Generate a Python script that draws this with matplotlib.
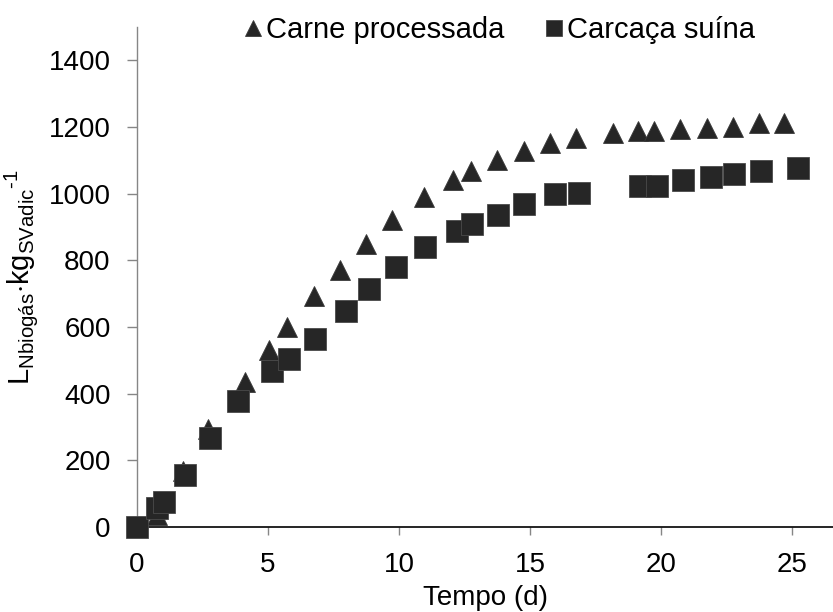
import matplotlib
matplotlib.use("Agg")
import matplotlib.pyplot as plt

plt.rcParams['font.family'] = ['Liberation Sans', 'DejaVu Sans']
plt.rcParams['mathtext.fontset'] = 'custom'
plt.rcParams['mathtext.rm'] = 'Liberation Sans'
plt.rcParams['mathtext.it'] = 'Liberation Sans'

# Carne processada (triangles)
carne_t = [0, 0.76, 1.76, 2.71, 4.12, 5.04, 5.74, 6.74, 7.73, 8.73, 9.74, 10.95,
           12.07, 12.73, 13.73, 14.75, 15.75, 16.74, 18.16, 19.13, 19.74, 20.74,
           21.74, 22.75, 23.74, 24.7]
carne_v = [0, 35, 169, 294, 436, 531, 599, 694, 771, 849, 920, 989,
           1042, 1069, 1102, 1129, 1151, 1166, 1183, 1187, 1189, 1193,
           1196, 1199, 1211, 1211]

# Carcaça suína (squares)
carcaca_t = [0, 0.76, 1.02, 1.83, 2.79, 3.87, 5.15, 5.8, 6.78, 7.96, 8.87, 9.87,
             10.98, 12.22, 12.79, 13.79, 14.77, 15.94, 16.88, 19.21, 19.85, 20.84,
             21.89, 22.8, 23.82, 25.23]
carcaca_v = [0, 57, 75, 157, 267, 377, 468, 505, 565, 649, 714, 779,
             839, 889, 909, 935, 969, 1000, 1002, 1023, 1022, 1040,
             1049, 1059, 1068, 1077]

fig = plt.figure(figsize=(8.33, 6.12), dpi=100)
ax = fig.add_axes([0.1645, 0.139, 0.8355, 0.817])

mk = '#262626'
ax.plot(carne_t, carne_v, linestyle='none', marker='^', markersize=15,
        color=mk, markeredgecolor='#3a3a3a', markeredgewidth=0.6,
        clip_on=False, label='Carne processada', zorder=3)
ax.plot(carcaca_t, carcaca_v, linestyle='none', marker='s', markersize=16,
        color=mk, markeredgecolor='#4a4a4a', markeredgewidth=0.6,
        clip_on=False, label='Carcaça suína', zorder=4)

ax.set_xlim(0, 26.56)
ax.set_ylim(0, 1500)
ax.set_xticks([0, 5, 10, 15, 20, 25])
ax.set_yticks([0, 200, 400, 600, 800, 1000, 1200, 1400])

for s in ['top', 'right']:
    ax.spines[s].set_visible(False)
ax.spines['left'].set_color('#868686')
ax.spines['left'].set_linewidth(1.0)
ax.spines['bottom'].set_color('black')
ax.spines['bottom'].set_linewidth(1.2)

ax.tick_params(axis='y', direction='out', length=7, width=1, color='#868686',
               labelsize=20, pad=12)
ax.tick_params(axis='x', direction='out', length=6, width=1, color='#868686',
               labelsize=20, pad=12)

ax.set_xlabel('Tempo (d)', fontsize=20, labelpad=5)
ax.set_ylabel(r'$\mathrm{L_{Nbiogás}{\cdot}kg_{SVadic}{}^{‐1}}$', fontsize=21, labelpad=6)

leg = fig.legend(loc='center', bbox_to_anchor=(0.598, 0.951), ncol=2, frameon=False,
                 fontsize=21, handlelength=0.8, handletextpad=0.05, columnspacing=1.3,
                 markerscale=0.75)

fig.savefig('out.png', dpi=100)
